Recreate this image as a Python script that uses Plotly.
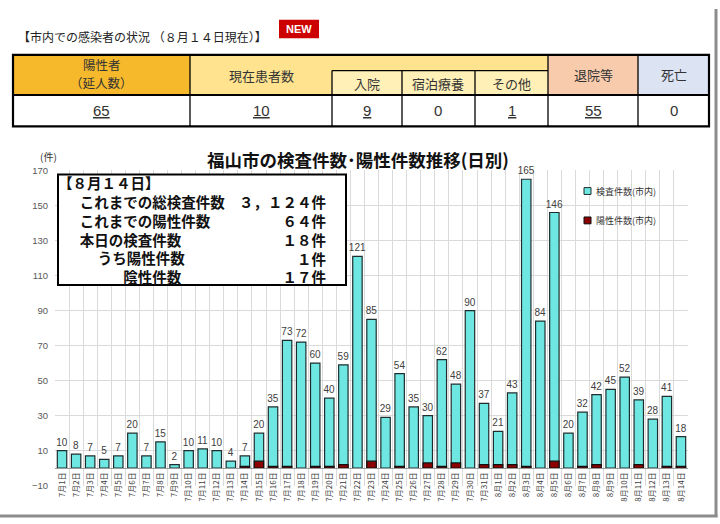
import plotly.graph_objects as go

# ---------------- data ----------------
dates = ["7月1日", "7月2日", "7月3日", "7月4日", "7月5日", "7月6日", "7月7日", "7月8日",
         "7月9日", "7月10日", "7月11日", "7月12日", "7月13日", "7月14日", "7月15日",
         "7月16日", "7月17日", "7月18日", "7月19日", "7月20日", "7月21日", "7月22日",
         "7月23日", "7月24日", "7月25日", "7月26日", "7月27日", "7月28日", "7月29日",
         "7月30日", "7月31日", "8月1日", "8月2日", "8月3日", "8月4日", "8月5日", "8月6日",
         "8月7日", "8月8日", "8月9日", "8月10日", "8月11日", "8月12日", "8月13日", "8月14日"]
tests = [10, 8, 7, 5, 7, 20, 7, 15, 2, 10, 11, 10, 4, 7, 20, 35, 73, 72, 60, 40, 59, 121,
         85, 29, 54, 35, 30, 62, 48, 90, 37, 21, 43, 165, 84, 146, 20, 32, 42, 45, 52, 39,
         28, 41, 18]
positives = [0, 0, 0, 0, 0, 0, 0, 0, 0, 0, 0, 0, 0, 1, 4, 1, 1, 0, 1, 1, 2, 0,
             4, 0, 1, 0, 3, 1, 3, 0, 2, 2, 2, 1, 0, 4, 0, 1, 2, 0, 0, 2,
             0, 1, 1]
y_ticks = [-10, 10, 30, 50, 70, 90, 110, 130, 150, 170]
series_names = ["検査件数(市内)", "陽性件数(市内)"]

table_headers = [["陽性者", "（延人数）"], ["現在患者数"], ["入院"], ["宿泊療養"], ["その他"], ["退院等"], ["死亡"]]
table_values = [65, 10, 9, 0, 1, 55, 0]
table_links = [True, True, True, False, True, True, False]

summary_title = "【８月１４日】"
summary_labels = ["これまでの総検査件数", "これまでの陽性件数", "本日の検査件数", "うち陽性件数", "陰性件数"]
summary_values = ["３，１２４件", "６４件", "１８件", "１件", "１７件"]

page_title = "【市内での感染者の状況 （８月１４日現在）】"
chart_title = "福山市の検査件数･陽性件数推移(日別)"

# ---------------- helpers ----------------
W, H = 720, 524
JP = "Noto Sans CJK JP"
NUM = "Liberation Sans Narrow, Liberation Sans, Arial"


def X(px):
    return px / W


def Y(py):
    return (H - py) / H


CYAN = "#6EE6E2"
RED = "#8B0000"

fig = go.Figure()
fig.add_trace(go.Bar(
    x=dates, y=tests, name=series_names[0],
    marker=dict(color=CYAN, line=dict(color="#1E2E2E", width=1.2)),
    text=[str(v) for v in tests], textposition="outside", constraintext="none",
    textfont=dict(family=NUM, size=10, color="#404040"),
    cliponaxis=False, showlegend=False,
))
fig.add_trace(go.Bar(
    x=dates, y=[v if v > 0 else None for v in positives], name=series_names[1],
    marker=dict(color=RED, line=dict(color="#101010", width=1.2)),
    showlegend=False,
))

shapes = []
annotations = []


def text(px, py, s, size, family=JP, color="#222", xa="center", ya="middle", align="center"):
    annotations.append(dict(x=X(px), y=Y(py), xref="paper", yref="paper", text=s, showarrow=False,
                            xanchor=xa, yanchor=ya, align=align,
                            font=dict(family=family, size=size, color=color)))


def rect(x0, x1, y0, y1, fill, lw=0, lc="black"):
    shapes.append(dict(type="rect", xref="paper", yref="paper", x0=X(x0), x1=X(x1), y0=Y(y1), y1=Y(y0),
                       fillcolor=fill, line=dict(width=lw, color=lc)))


def line(x0, y0, x1, y1, w=1.3, c="black"):
    shapes.append(dict(type="line", xref="paper", yref="paper", x0=X(x0), x1=X(x1), y0=Y(y0), y1=Y(y1),
                       line=dict(color=c, width=w)))


# ---------------- top table ----------------
text(16, 31, page_title, 12, xa="left")
rect(279, 319, 14, 33, "#CC0000")
text(299, 23, "<b>NEW</b>", 11, family="Liberation Sans", color="white")

t_top, t_sub, t_mid, t_bot = 50, 66, 91, 123
cols = [13, 190, 332, 402, 475, 548, 638, 709]

rect(cols[0], cols[1], t_top, t_mid, "#F6B92B")
rect(cols[1], cols[5], t_top, t_mid, "#FFE38F")
for i in (2, 3, 4):
    rect(cols[i], cols[i + 1], t_sub, t_mid, "#FFF0B8")
rect(cols[5], cols[6], t_top, t_mid, "#F8CBAD")
rect(cols[6], cols[7], t_top, t_mid, "#DCE4F3")
rect(cols[0], cols[7], t_mid, t_bot, "white")
for c in (cols[1], cols[5], cols[6]):
    line(c, t_top, c, t_bot)
for c in (cols[2], cols[3], cols[4]):
    line(c, t_sub, c, t_bot)
line(cols[2], t_sub, cols[5], t_sub)
line(cols[0], t_mid, cols[7], t_mid, 2)
rect(cols[0], cols[7], t_top, t_bot, "rgba(0,0,0,0)", lw=2.2)

header_pos = [(101.5, 69), (261, 71), (367, 79), (438.5, 79), (511.5, 79), (593, 70), (673.5, 70)]
value_x = [101.5, 261, 367, 438.5, 511.5, 593, 673.5]
for (hx, hy), hl in zip(header_pos, table_headers):
    if len(hl) == 2:
        text(hx, hy - 9.25, hl[0], 12.5, color="#333")
        text(hx, hy + 9.25, hl[1], 12.5, color="#333")
    else:
        text(hx, hy, hl[0], 13, color="#333")
for vx, v, link in zip(value_x, table_values, table_links):
    text(vx, 107, f"<u>{v}</u>" if link else f"{v}", 15, family=NUM, color="#333")

# ---------------- chart decorations ----------------
text(358, 157, f"<b>{chart_title}</b>", 17.5, color="#111")
text(48, 154, "(件)", 10, color="#333")

# summary box: one block for the labels, one for the values
rect(58, 346, 172, 285, "white", lw=2, lc="black")
EM, EN = "\u3000", "\u2002"
indents = [EM + EN, EM + EN, EM + EN, EM + EM + EN + "\u2005", EM * 4 + EN]
left_lines = [summary_title] + [ind + lab for ind, lab in zip(indents, summary_labels)]
text(56, 228.5, "<br>".join(f"<b>{s}</b>" for s in left_lines), 14.5, color="#111",
     xa="left", align="left")
text(328, 237.5, "<br>".join(f"<b>{v}</b>" for v in summary_values), 14.5, color="#111",
     xa="right", align="right")

# legend (manual)
leg = [(189, CYAN, "#1E2E2E"), (219, RED, "#101010")]
for (ly, fc, lc), name in zip(leg, series_names):
    rect(584, 591, ly - 3.5, ly + 3.5, fc, lw=1, lc=lc)
    text(594, ly, name, 9, color="#333", xa="left")

# outer frame
line(716, 3, 716, 522, w=3, c="#8C8C8C")
line(0, 521, 717.5, 521, w=3, c="#8C8C8C")

fig.update_layout(
    width=W, height=H, margin=dict(l=0, r=0, t=0, b=0),
    paper_bgcolor="white", plot_bgcolor="white",
    barmode="overlay", bargap=0.33,
    showlegend=False,
    shapes=shapes, annotations=annotations,
    xaxis=dict(domain=[X(55), X(688)], type="category", categoryorder="array", categoryarray=dates,
               range=[-0.5, len(dates) - 0.5], tickangle=-90, tickson="boundaries",
               showgrid=True, gridcolor="#DADADA", gridwidth=1,
               anchor="free", position=Y(472), showline=True, linecolor="#9A9A9A", linewidth=1.2,
               ticks="", tickfont=dict(family=JP, size=8, color="#404040")),
    yaxis=dict(domain=[Y(490), Y(168)], range=[-10, 170], tickvals=y_ticks,
               showgrid=True, gridcolor="#DADADA", gridwidth=1, zeroline=False,
               showline=False, ticks="", ticklabelstandoff=6,
               tickfont=dict(family=NUM, size=9.5, color="#595959")),
)

fig.write_html("out.html", config={"displayModeBar": False},
               post_script="document.body.style.margin='0';")
